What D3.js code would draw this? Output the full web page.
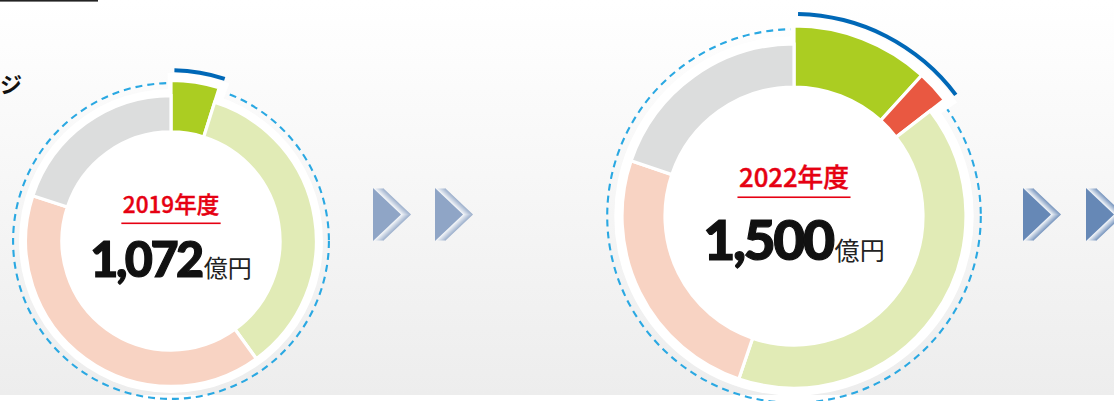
<!DOCTYPE html>
<html>
<head>
<meta charset="utf-8">
<script src="https://cdn.jsdelivr.net/npm/d3@7"></script>
<style>
body { margin: 0; background: #fff; }
svg { display: block; font-family: "Noto Sans CJK JP", "Noto Sans", sans-serif; }
</style>
</head>
<body>
<div id="chart"></div>
<script>
// data
var years = ["2019年度", "2022年度"];
var totals = [1072, 1500];
var unitLabel = "億円";
var segments = ["s1", "s2", "s3", "s4", "s5"];
var values2019 = [52, 0, 377, 429, 214];
var values2022 = [176, 42, 610, 375, 297];
var highlighted = [true, true, false, false, false];
var segColors = ["#abcd22", "#e95841", "#e1ebb6", "#f8d3c3", "#dcdddd"];

var width = 1114, height = 401;
var centersX = [171, 794];
var centersY = [241, 216];

var svg = d3.select("#chart").append("svg")
    .attr("width", width)
    .attr("height", height);

var defs = svg.append("defs");
var bg = defs.append("linearGradient").attr("id", "bg")
    .attr("x1", 0).attr("y1", 0).attr("x2", 0).attr("y2", 1);
bg.append("stop").attr("offset", "0%").attr("stop-color", "#ffffff");
bg.append("stop").attr("offset", "100%").attr("stop-color", "#ededed");

svg.append("rect")
    .attr("width", width)
    .attr("height", 395)
    .attr("fill", "url(#bg)");

// cropped title bits at the top left
svg.append("rect").attr("x", 0).attr("y", 0).attr("width", 98).attr("height", 1.6).attr("fill", "#222");
svg.append("text")
    .attr("x", 0).attr("y", 93)
    .attr("font-size", 22).attr("font-weight", 700)
    .attr("fill", "#111")
    .text("ジ");

// radius scale: ring area proportional to total
var rScale = d3.scaleSqrt().domain([0, 1500]).range([0, 172]);

var pie = d3.pie().sort(null).value(function(d) { return d.value; });

function drawDonut(i, values) {
    var R = rScale(totals[i]);
    var s = Math.pow(R / rScale(totals[0]), 0.8);
    var dR = R - rScale(totals[0]);
    var g = svg.append("g").attr("transform", "translate(" + centersX[i] + "," + centersY[i] + ")");

    var data = values.map(function(v, j) {
        return {key: segments[j], value: v, color: segColors[j], hi: highlighted[j]};
    });
    var arcs = pie(data).filter(function(d) { return d.data.value > 0; });
    var hiArcs = arcs.filter(function(d) { return d.data.hi; });
    var hiStart = d3.min(hiArcs, function(d) { return d.startAngle; });
    var hiEnd = d3.max(hiArcs, function(d) { return d.endAngle; });

    // dashed guide circle
    g.append("circle")
        .attr("r", R * 1.086)
        .attr("fill", "none")
        .attr("stroke", "#2aa8e2")
        .attr("stroke-width", 2.1)
        .attr("stroke-dasharray", "7,5");

    // white backing
    g.append("circle").attr("r", R * 1.045).attr("fill", "#fff");
    g.append("path")
        .attr("fill", "#fff")
        .attr("d", d3.arc()({innerRadius: 0, outerRadius: R * 1.155,
            startAngle: hiStart - 0.02, endAngle: hiEnd + 0.05}));

    var arc = d3.arc()
        .innerRadius(R * 0.75)
        .outerRadius(function(d) { return d.data.hi ? R * 1.105 : R; });

    g.selectAll(".seg")
        .data(arcs)
      .enter().append("path")
        .attr("class", "seg")
        .attr("d", arc)
        .attr("fill", function(d) { return d.data.color; })
        .attr("stroke", "#fff")
        .attr("stroke-width", 3.2);

    // blue bracket over highlighted segments
    g.append("path")
        .attr("fill", "#0068b7")
        .attr("d", d3.arc()({innerRadius: R * 1.175 - 2, outerRadius: R * 1.175 + 2,
            startAngle: hiStart + 0.02, endAngle: hiEnd + 0.015}));

    // centre labels
    var label = g.append("text")
        .attr("text-anchor", "middle")
        .attr("y", -28 - dR * 0.04)
        .attr("font-size", 22.5 * s)
        .attr("font-weight", 500)
        .attr("fill", "#e60012")
        .attr("stroke", "#e60012")
        .attr("stroke-width", 0.4)
        .text(years[i]);
    var lw = label.node().getComputedTextLength() + 3;
    g.append("rect")
        .attr("x", -lw / 2).attr("y", -18.5 - dR * 0.04)
        .attr("width", lw).attr("height", 1.6)
        .attr("fill", "#e60012");

    var num = g.append("text")
        .attr("text-anchor", "middle")
        .attr("y", 36 + dR * 0.3)
        .attr("fill", "#111");
    num.append("tspan")
        .attr("font-family", "Lato, 'Noto Sans', sans-serif")
        .attr("font-weight", 900)
        .attr("font-size", 48.5 * s)
        .attr("letter-spacing", -2.5)
        .attr("stroke", "#111")
        .attr("stroke-width", 1.2)
        .text(d3.format(",")(totals[i]));
    num.append("tspan")
        .attr("dx", 2)
        .attr("font-size", 24 + dR * 0.04)
        .attr("font-weight", 400)
        .attr("fill", "#222")
        .text(unitLabel);
}

drawDonut(0, values2019);
drawDonut(1, values2022);

// chevron arrows
var arrows = [
    {x: 373, color: "#8fa5c6"},
    {x: 435, color: "#8fa5c6"},
    {x: 1023, color: "#6688b6"},
    {x: 1086, color: "#6688b6"}
];
var aTop = 188, aBot = 241, aMid = 214.5, aW = 28;
arrows.forEach(function(a) {
    var ag = svg.append("g");
    for (var s = 10; s >= 1; s--) {
        var col = d3.interpolateRgb("#ffffff", a.color)(0.85 * s / 10);
        ag.append("path")
            .attr("fill", col)
            .attr("d", d3.line()([[a.x + s, aTop], [a.x + s + aW, aMid], [a.x + s, aBot]]) + "Z");
    }
    ag.append("path")
        .attr("fill", a.color)
        .attr("d", d3.line()([[a.x, aTop], [a.x + aW, aMid], [a.x, aBot]]) + "Z");
});
</script>
</body>
</html>
